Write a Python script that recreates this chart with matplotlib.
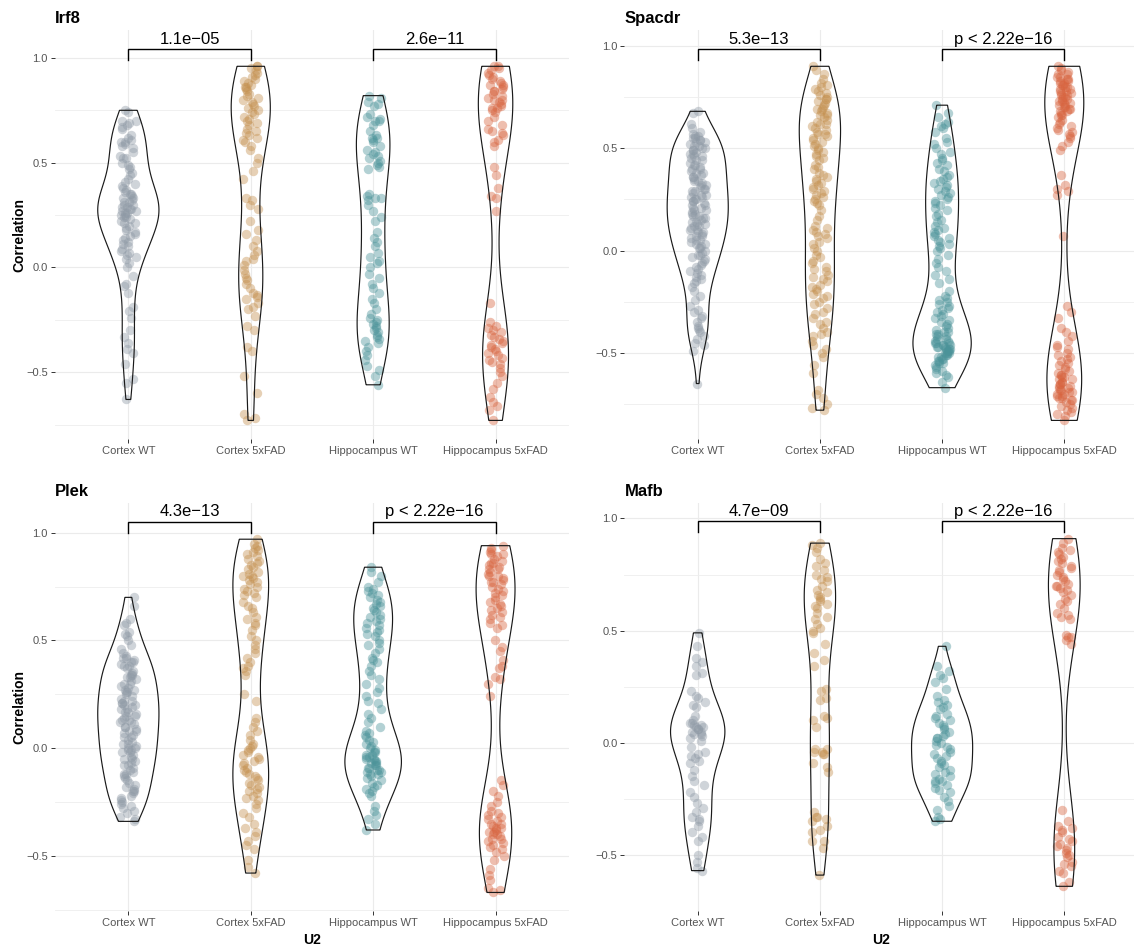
import numpy as np
import matplotlib
matplotlib.use("Agg")
import matplotlib.pyplot as plt

plt.rcParams["font.family"] = ["Liberation Sans", "DejaVu Sans"]

groups = ["Cortex WT", "Cortex 5xFAD", "Hippocampus WT", "Hippocampus 5xFAD"]
group_colors = ["#8E99A5", "#C4904F", "#4B9399", "#D8643F"]
genes = ["Irf8", "Spacdr", "Plek", "Mafb"]
p_cortex = ["1.1e\u221205", "5.3e\u221213", "4.3e\u221213", "4.7e\u221209"]
p_hippo = ["2.6e\u221211", "p < 2.22e\u221216", "p < 2.22e\u221216", "p < 2.22e\u221216"]

# ---- correlation values per gene / group ----
irf8_cortex_wt = [0.75, 0.74, 0.70, 0.69, 0.68, 0.67, 0.66, 0.70, 0.63, 0.62, 0.61, 0.60, 0.59, 0.58,
                  0.60, 0.57, 0.55, 0.53, 0.52, 0.50, 0.49, 0.48, 0.47, 0.52, 0.45, 0.44, 0.42, 0.41,
                  0.40, 0.39, 0.38, 0.37, 0.36, 0.35, 0.35, 0.34, 0.33, 0.33, 0.32, 0.31, 0.31, 0.30,
                  0.30, 0.29, 0.29, 0.28, 0.28, 0.27, 0.27, 0.26, 0.26, 0.25, 0.25, 0.24, 0.24, 0.23,
                  0.22, 0.21, 0.21, 0.20, 0.19, 0.18, 0.17, 0.16, 0.15, 0.14, 0.13, 0.12, 0.11, 0.10,
                  0.09, 0.08, 0.07, 0.06, 0.05, 0.04, 0.02, 0.00, -0.04, -0.08, -0.09, -0.12, -0.19,
                  -0.21, -0.24, -0.30, -0.33, -0.36, -0.39, -0.41, -0.46, -0.53, -0.55, -0.63]
irf8_cortex_5x = [0.96, 0.96, 0.95, 0.94, 0.93, 0.92, 0.91, 0.90, 0.89, 0.88, 0.87, 0.86, 0.86, 0.85,
                  0.84, 0.83, 0.82, 0.81, 0.80, 0.79, 0.78, 0.77, 0.76, 0.75, 0.74, 0.73, 0.72, 0.71,
                  0.70, 0.69, 0.68, 0.66, 0.65, 0.64, 0.63, 0.62, 0.61, 0.60, 0.58, 0.56, 0.52, 0.50,
                  0.46, 0.42, 0.33, 0.32, 0.30, 0.28, 0.22, 0.18, 0.16, 0.13, 0.10, 0.08, 0.06, 0.04,
                  0.03, 0.01, -0.01, -0.03, -0.05, -0.06, -0.08, -0.10, -0.12, -0.13, -0.14, -0.15,
                  -0.17, -0.19, -0.20, -0.23, -0.28, -0.30, -0.38, -0.40, -0.52, -0.60, -0.70, -0.72,
                  -0.73]
irf8_hippo_wt = [0.82, 0.81, 0.79, 0.78, 0.77, 0.73, 0.72, 0.71, 0.70, 0.70, 0.68, 0.65, 0.63, 0.62,
                 0.62, 0.61, 0.60, 0.58, 0.56, 0.55, 0.54, 0.53, 0.52, 0.51, 0.50, 0.49, 0.48, 0.47,
                 0.35, 0.34, 0.33, 0.33, 0.32, 0.30, 0.27, 0.24, 0.22, 0.17, 0.14, 0.12, 0.10, 0.07,
                 0.05, 0.03, 0.02, 0.00, -0.03, -0.05, -0.08, -0.10, -0.12, -0.15, -0.17, -0.20, -0.22,
                 -0.24, -0.25, -0.26, -0.27, -0.28, -0.29, -0.30, -0.31, -0.32, -0.33, -0.34, -0.35,
                 -0.36, -0.38, -0.40, -0.42, -0.44, -0.47, -0.49, -0.52, -0.56]
irf8_hippo_5x = [0.96, 0.96, 0.95, 0.94, 0.93, 0.92, 0.91, 0.90, 0.89, 0.88, 0.87, 0.87, 0.86, 0.85,
                 0.84, 0.84, 0.83, 0.82, 0.81, 0.80, 0.80, 0.79, 0.78, 0.77, 0.76, 0.76, 0.75, 0.74,
                 0.72, 0.70, 0.68, 0.66, 0.65, 0.64, 0.63, 0.61, 0.60, 0.58, 0.48, 0.44, 0.38, 0.34,
                 0.33, 0.27, -0.17, -0.26, -0.28, -0.29, -0.30, -0.31, -0.32, -0.33, -0.34, -0.35,
                 -0.36, -0.37, -0.38, -0.39, -0.40, -0.41, -0.42, -0.43, -0.44, -0.45, -0.46, -0.48,
                 -0.50, -0.52, -0.55, -0.58, -0.62, -0.64, -0.66, -0.68, -0.73]

spacdr_cortex_wt = [0.68, 0.67, 0.62, 0.60, 0.58, 0.57, 0.56, 0.56, 0.55, 0.55, 0.54, 0.54, 0.53, 0.53,
                    0.52, 0.51, 0.51, 0.50, 0.50, 0.49, 0.49, 0.48, 0.47, 0.47, 0.46, 0.46, 0.45, 0.44,
                    0.44, 0.43, 0.42, 0.42, 0.41, 0.40, 0.40, 0.39, 0.38, 0.38, 0.37, 0.36, 0.36, 0.35,
                    0.34, 0.34, 0.33, 0.32, 0.32, 0.31, 0.30, 0.30, 0.29, 0.29, 0.28, 0.27, 0.27, 0.26,
                    0.26, 0.25, 0.25, 0.24, 0.24, 0.23, 0.22, 0.22, 0.21, 0.21, 0.20, 0.20, 0.19, 0.18,
                    0.18, 0.17, 0.17, 0.16, 0.16, 0.15, 0.14, 0.14, 0.13, 0.13, 0.12, 0.12, 0.11, 0.10,
                    0.10, 0.09, 0.09, 0.08, 0.07, 0.07, 0.06, 0.05, 0.05, 0.04, 0.03, 0.03, 0.02, 0.01,
                    0.01, 0.00, -0.01, -0.02, -0.02, -0.03, -0.04, -0.05, -0.06, -0.07, -0.08, -0.09,
                    -0.10, -0.11, -0.12, -0.13, -0.14, -0.15, -0.16, -0.18, -0.20, -0.22, -0.24, -0.27,
                    -0.29, -0.30, -0.32, -0.33, -0.35, -0.37, -0.38, -0.39, -0.40, -0.42, -0.43, -0.45,
                    -0.46, -0.49, -0.65]
spacdr_cortex_5x = [0.90, 0.88, 0.86, 0.84, 0.82, 0.81, 0.80, 0.79, 0.78, 0.77, 0.76, 0.75, 0.74, 0.74,
                    0.73, 0.72, 0.71, 0.70, 0.69, 0.69, 0.68, 0.67, 0.66, 0.66, 0.65, 0.64, 0.63, 0.62,
                    0.62, 0.61, 0.60, 0.59, 0.58, 0.57, 0.57, 0.56, 0.55, 0.54, 0.53, 0.52, 0.51, 0.50,
                    0.49, 0.48, 0.47, 0.46, 0.45, 0.44, 0.42, 0.41, 0.40, 0.38, 0.37, 0.36, 0.35, 0.34,
                    0.33, 0.32, 0.31, 0.30, 0.29, 0.28, 0.27, 0.26, 0.25, 0.24, 0.23, 0.22, 0.20, 0.17,
                    0.15, 0.12, 0.11, 0.10, 0.09, 0.08, 0.07, 0.06, 0.04, 0.03, 0.01, 0.00, -0.02, -0.03,
                    -0.05, -0.06, -0.08, -0.09, -0.10, -0.12, -0.13, -0.14, -0.15, -0.17, -0.18, -0.19,
                    -0.20, -0.21, -0.22, -0.23, -0.25, -0.26, -0.28, -0.30, -0.31, -0.33, -0.35, -0.36,
                    -0.38, -0.40, -0.41, -0.42, -0.44, -0.46, -0.48, -0.50, -0.52, -0.56, -0.60, -0.68,
                    -0.70, -0.72, -0.75, -0.77, -0.78]
spacdr_hippo_wt = [0.71, 0.67, 0.65, 0.63, 0.62, 0.61, 0.60, 0.58, 0.55, 0.53, 0.52, 0.50, 0.48, 0.47,
                   0.45, 0.44, 0.43, 0.42, 0.40, 0.39, 0.37, 0.36, 0.35, 0.34, 0.33, 0.32, 0.31, 0.30,
                   0.29, 0.28, 0.27, 0.26, 0.25, 0.24, 0.23, 0.22, 0.21, 0.20, 0.18, 0.17, 0.15, 0.14,
                   0.12, 0.11, 0.10, 0.09, 0.08, 0.07, 0.06, 0.05, 0.04, 0.03, 0.02, 0.01, 0.00, -0.02,
                   -0.04, -0.06, -0.08, -0.10, -0.12, -0.14, -0.16, -0.20, -0.22, -0.23, -0.24, -0.25,
                   -0.26, -0.27, -0.28, -0.29, -0.30, -0.31, -0.32, -0.33, -0.34, -0.35, -0.36, -0.37,
                   -0.38, -0.39, -0.40, -0.40, -0.41, -0.41, -0.42, -0.42, -0.43, -0.43, -0.44, -0.44,
                   -0.45, -0.45, -0.45, -0.46, -0.46, -0.46, -0.47, -0.47, -0.47, -0.48, -0.48, -0.48,
                   -0.49, -0.49, -0.49, -0.50, -0.50, -0.50, -0.51, -0.51, -0.52, -0.52, -0.53, -0.53,
                   -0.54, -0.54, -0.55, -0.55, -0.56, -0.57, -0.58, -0.59, -0.60, -0.61, -0.62, -0.64,
                   -0.67]
spacdr_hippo_5x = [0.90, 0.89, 0.88, 0.87, 0.86, 0.86, 0.85, 0.85, 0.84, 0.84, 0.83, 0.83, 0.82, 0.82,
                   0.81, 0.81, 0.80, 0.80, 0.79, 0.79, 0.78, 0.78, 0.77, 0.77, 0.76, 0.76, 0.75, 0.75,
                   0.74, 0.74, 0.73, 0.73, 0.72, 0.72, 0.71, 0.71, 0.70, 0.70, 0.69, 0.69, 0.68, 0.68,
                   0.67, 0.66, 0.66, 0.65, 0.64, 0.63, 0.62, 0.61, 0.60, 0.59, 0.58, 0.57, 0.56, 0.55,
                   0.53, 0.51, 0.49, 0.37, 0.32, 0.30, 0.29, 0.27, 0.07, -0.27, -0.30, -0.33, -0.38,
                   -0.40, -0.42, -0.44, -0.46, -0.47, -0.48, -0.50, -0.51, -0.52, -0.53, -0.54, -0.55,
                   -0.56, -0.57, -0.58, -0.59, -0.60, -0.61, -0.61, -0.62, -0.62, -0.63, -0.63, -0.64,
                   -0.64, -0.65, -0.65, -0.66, -0.66, -0.67, -0.67, -0.68, -0.68, -0.69, -0.69, -0.70,
                   -0.70, -0.71, -0.71, -0.72, -0.72, -0.73, -0.73, -0.74, -0.75, -0.76, -0.77, -0.78,
                   -0.79, -0.80, -0.81, -0.83]

plek_cortex_wt = [0.70, 0.66, 0.60, 0.58, 0.57, 0.54, 0.53, 0.52, 0.50, 0.48, 0.46, 0.44, 0.43, 0.42,
                  0.42, 0.41, 0.40, 0.40, 0.39, 0.38, 0.38, 0.37, 0.36, 0.35, 0.34, 0.34, 0.33, 0.33,
                  0.32, 0.31, 0.30, 0.30, 0.29, 0.28, 0.27, 0.27, 0.26, 0.26, 0.25, 0.24, 0.23, 0.22,
                  0.22, 0.21, 0.21, 0.20, 0.20, 0.19, 0.18, 0.18, 0.17, 0.17, 0.16, 0.15, 0.15, 0.14,
                  0.13, 0.13, 0.12, 0.12, 0.11, 0.10, 0.10, 0.09, 0.08, 0.08, 0.07, 0.06, 0.05, 0.05,
                  0.04, 0.03, 0.02, 0.02, 0.01, 0.00, 0.00, -0.01, -0.01, -0.02, -0.02, -0.03, -0.04,
                  -0.05, -0.05, -0.06, -0.07, -0.08, -0.08, -0.09, -0.10, -0.11, -0.12, -0.12, -0.13,
                  -0.14, -0.15, -0.16, -0.17, -0.18, -0.19, -0.20, -0.20, -0.21, -0.22, -0.23, -0.24,
                  -0.25, -0.26, -0.27, -0.28, -0.29, -0.30, -0.32, -0.33, -0.34]
plek_cortex_5x = [0.97, 0.95, 0.94, 0.93, 0.92, 0.91, 0.90, 0.89, 0.88, 0.87, 0.86, 0.85, 0.84, 0.83,
                  0.82, 0.81, 0.80, 0.80, 0.79, 0.78, 0.77, 0.76, 0.75, 0.74, 0.73, 0.72, 0.71, 0.70,
                  0.68, 0.66, 0.65, 0.63, 0.61, 0.60, 0.58, 0.57, 0.55, 0.52, 0.50, 0.48, 0.46, 0.44,
                  0.42, 0.40, 0.38, 0.37, 0.36, 0.34, 0.25, 0.22, 0.14, 0.12, 0.10, 0.08, 0.06, 0.04,
                  0.02, 0.01, 0.00, -0.01, -0.02, -0.03, -0.04, -0.05, -0.06, -0.07, -0.08, -0.09,
                  -0.10, -0.11, -0.12, -0.13, -0.14, -0.15, -0.16, -0.17, -0.18, -0.19, -0.20, -0.21,
                  -0.22, -0.23, -0.24, -0.26, -0.28, -0.30, -0.32, -0.35, -0.37, -0.39, -0.41, -0.43,
                  -0.45, -0.47, -0.52, -0.55, -0.58]
plek_hippo_wt = [0.84, 0.82, 0.80, 0.77, 0.75, 0.74, 0.73, 0.72, 0.71, 0.70, 0.69, 0.68, 0.67, 0.66,
                 0.65, 0.64, 0.63, 0.62, 0.61, 0.60, 0.59, 0.58, 0.57, 0.56, 0.55, 0.54, 0.53, 0.52,
                 0.50, 0.49, 0.48, 0.46, 0.44, 0.42, 0.41, 0.40, 0.38, 0.36, 0.34, 0.32, 0.30, 0.28,
                 0.26, 0.24, 0.22, 0.21, 0.18, 0.16, 0.14, 0.12, 0.10, 0.08, 0.07, 0.06, 0.05, 0.04,
                 0.03, 0.02, 0.01, 0.00, -0.01, -0.02, -0.02, -0.03, -0.03, -0.04, -0.04, -0.05,
                 -0.05, -0.06, -0.06, -0.07, -0.07, -0.08, -0.08, -0.09, -0.09, -0.10, -0.10, -0.11,
                 -0.11, -0.12, -0.12, -0.13, -0.14, -0.15, -0.16, -0.17, -0.18, -0.19, -0.20, -0.21,
                 -0.22, -0.27, -0.29, -0.31, -0.33, -0.35, -0.38]
plek_hippo_5x = [0.94, 0.93, 0.92, 0.91, 0.90, 0.90, 0.89, 0.88, 0.87, 0.86, 0.86, 0.85, 0.84, 0.83,
                 0.83, 0.82, 0.81, 0.80, 0.80, 0.79, 0.78, 0.77, 0.77, 0.76, 0.75, 0.74, 0.73, 0.72,
                 0.71, 0.70, 0.69, 0.68, 0.67, 0.66, 0.65, 0.64, 0.63, 0.62, 0.61, 0.60, 0.58, 0.57,
                 0.56, 0.50, 0.47, 0.45, 0.41, 0.38, 0.37, 0.33, 0.32, 0.30, 0.24, -0.15, -0.17, -0.20,
                 -0.22, -0.25, -0.27, -0.29, -0.30, -0.31, -0.32, -0.33, -0.34, -0.35, -0.35, -0.36,
                 -0.37, -0.37, -0.38, -0.39, -0.39, -0.40, -0.40, -0.41, -0.42, -0.42, -0.43, -0.44,
                 -0.45, -0.46, -0.47, -0.48, -0.50, -0.52, -0.56, -0.59, -0.61, -0.65, -0.66, -0.67]

mafb_cortex_wt = [0.49, 0.43, 0.38, 0.36, 0.34, 0.31, 0.30, 0.23, 0.21, 0.20, 0.18, 0.17, 0.16, 0.12,
                  0.10, 0.09, 0.09, 0.08, 0.08, 0.07, 0.07, 0.06, 0.06, 0.05, 0.05, 0.04, 0.04, 0.03,
                  0.02, 0.01, -0.02, -0.04, -0.05, -0.06, -0.07, -0.08, -0.09, -0.12, -0.15, -0.17,
                  -0.19, -0.22, -0.24, -0.27, -0.29, -0.31, -0.33, -0.34, -0.35, -0.37, -0.40, -0.42,
                  -0.44, -0.50, -0.53, -0.56, -0.57]
mafb_cortex_5x = [0.89, 0.88, 0.87, 0.85, 0.82, 0.80, 0.79, 0.77, 0.75, 0.74, 0.73, 0.72, 0.70, 0.68,
                  0.67, 0.66, 0.65, 0.64, 0.63, 0.62, 0.61, 0.60, 0.58, 0.56, 0.55, 0.53, 0.51, 0.50,
                  0.49, 0.44, 0.40, 0.37, 0.34, 0.24, 0.23, 0.20, 0.19, 0.12, 0.11, 0.10, 0.07, -0.03,
                  -0.04, -0.04, -0.05, -0.05, -0.03, -0.09, -0.11, -0.13, -0.31, -0.33, -0.33, -0.34,
                  -0.35, -0.37, -0.39, -0.40, -0.44, -0.44, -0.47, -0.59]
mafb_hippo_wt = [0.43, 0.34, 0.32, 0.30, 0.29, 0.27, 0.24, 0.21, 0.19, 0.18, 0.17, 0.16, 0.15, 0.13,
                 0.12, 0.11, 0.10, 0.09, 0.08, 0.07, 0.06, 0.05, 0.04, 0.03, 0.02, 0.02, 0.01, 0.00,
                 -0.01, -0.02, -0.03, -0.04, -0.05, -0.06, -0.07, -0.08, -0.09, -0.10, -0.11, -0.12,
                 -0.13, -0.14, -0.15, -0.16, -0.17, -0.17, -0.18, -0.19, -0.20, -0.21, -0.22, -0.24,
                 -0.26, -0.28, -0.30, -0.33, -0.34, -0.35]
mafb_hippo_5x = [0.91, 0.89, 0.87, 0.86, 0.85, 0.84, 0.83, 0.82, 0.81, 0.80, 0.79, 0.78, 0.77, 0.76,
                 0.75, 0.74, 0.73, 0.72, 0.71, 0.70, 0.70, 0.69, 0.68, 0.67, 0.66, 0.64, 0.63, 0.62,
                 0.60, 0.58, 0.57, 0.56, 0.55, 0.48, 0.47, 0.47, 0.46, 0.44, -0.30, -0.35, -0.37, -0.38,
                 -0.39, -0.40, -0.42, -0.43, -0.44, -0.45, -0.46, -0.47, -0.48, -0.49, -0.50, -0.51,
                 -0.53, -0.54, -0.55, -0.57, -0.58, -0.62, -0.64]

panel_data = {
    "Irf8": [irf8_cortex_wt, irf8_cortex_5x, irf8_hippo_wt, irf8_hippo_5x],
    "Spacdr": [spacdr_cortex_wt, spacdr_cortex_5x, spacdr_hippo_wt, spacdr_hippo_5x],
    "Plek": [plek_cortex_wt, plek_cortex_5x, plek_hippo_wt, plek_hippo_5x],
    "Mafb": [mafb_cortex_wt, mafb_cortex_5x, mafb_hippo_wt, mafb_hippo_5x],
}


def bw_nrd0(x):
    x = np.asarray(x, float)
    sd = x.std(ddof=1)
    q75, q25 = np.percentile(x, [75, 25])
    lo = min(sd, (q75 - q25) / 1.34)
    if lo <= 0:
        lo = sd if sd > 0 else 1.0
    return 0.9 * lo * len(x) ** -0.2


def kde(x, grid):
    x = np.asarray(x, float)
    bw = bw_nrd0(x)
    z = (grid[:, None] - x[None, :]) / bw
    return np.exp(-0.5 * z ** 2).sum(axis=1) / (len(x) * bw * np.sqrt(2 * np.pi))


W, H = 1134, 950
fig = plt.figure(figsize=(W / 100, H / 100), dpi=100)

# panel rectangles in pixels: left, top, right, bottom
rects = {
    "Irf8": (54.9, 30, 569.0, 439),
    "Spacdr": (624.4, 30, 1137.6, 439),
    "Plek": (54.9, 503, 569.0, 911),
    "Mafb": (624.4, 503, 1137.6, 911),
}

rng = np.random.default_rng(20)
violin_half = 0.25
jitter = 0.065

for gi, gene in enumerate(genes):
    l, t, r, b = rects[gene]
    ax = fig.add_axes([l / W, 1 - b / H, (r - l) / W, (b - t) / H])
    data = panel_data[gene]
    pos = np.arange(1, len(groups) + 1)

    allv = np.concatenate([np.asarray(d, float) for d in data])
    vmin, vmax = allv.min(), allv.max()
    span = vmax - vmin
    bracket_y = vmax + 0.05 * span
    leg = 0.032 * span

    # violins, scaled by area within the panel
    dens = []
    for d in data:
        grid = np.linspace(min(d), max(d), 512)
        dens.append((grid, kde(d, grid)))
    dmax = max(dd.max() for _, dd in dens)
    for p, (grid, dd) in zip(pos, dens):
        half = violin_half * dd / dmax
        xs = np.concatenate([p + half, (p - half)[::-1]])
        ys = np.concatenate([grid, grid[::-1]])
        ax.fill(xs, ys, facecolor="none", edgecolor="#1a1a1a", linewidth=0.85, zorder=3)

    # jittered points
    for p, d, c in zip(pos, data, group_colors):
        d = np.asarray(d, float)
        xj = p + rng.uniform(-jitter, jitter, len(d))
        ax.scatter(xj, d, s=46, color=c, alpha=0.42, linewidths=0, zorder=2)

    # comparison brackets
    for (x1, x2), lab in zip([(1, 2), (3, 4)], [p_cortex[gi], p_hippo[gi]]):
        ax.plot([x1, x1, x2, x2], [bracket_y - leg, bracket_y, bracket_y, bracket_y - leg],
                color="black", linewidth=1.0, zorder=4, solid_joinstyle="miter")
        ax.annotate(lab, xy=((x1 + x2) / 2, bracket_y), xytext=(0, 1.5),
                    textcoords="offset points", ha="center", va="bottom",
                    fontsize=12, color="black")

    pad = 0.05 * (bracket_y - vmin)
    ax.set_ylim(vmin - pad, bracket_y + pad)
    ax.set_xlim(0.4, 4.6)

    ax.set_xticks(pos)
    ax.set_xticklabels(groups)
    ax.set_yticks([-0.5, 0.0, 0.5, 1.0])
    ax.set_yticklabels(["\u22120.5", "0.0", "0.5", "1.0"])
    ax.set_yticks([-0.75, -0.25, 0.25, 0.75], minor=True)
    ax.grid(which="major", color="#EBEBEB", linewidth=0.85, zorder=0)
    ax.grid(which="minor", axis="y", color="#EEEEEE", linewidth=0.6, zorder=0)
    ax.set_axisbelow(True)
    for s in ax.spines.values():
        s.set_visible(False)
    ax.tick_params(axis="both", which="major", length=3, width=0.7, color="#333333",
                   labelcolor="#555555", labelsize=8, pad=2)
    ax.tick_params(axis="y", which="minor", length=0)

    ax.set_title(gene, loc="left", fontsize=12, fontweight="bold", pad=5)
    if gi % 2 == 0:
        ax.set_ylabel("Correlation", fontsize=10, fontweight="bold", labelpad=0)
    if gi >= 2:
        ax.set_xlabel("U2", fontsize=10, fontweight="bold", labelpad=4)

fig.savefig("out.png", dpi=100, facecolor="white")
